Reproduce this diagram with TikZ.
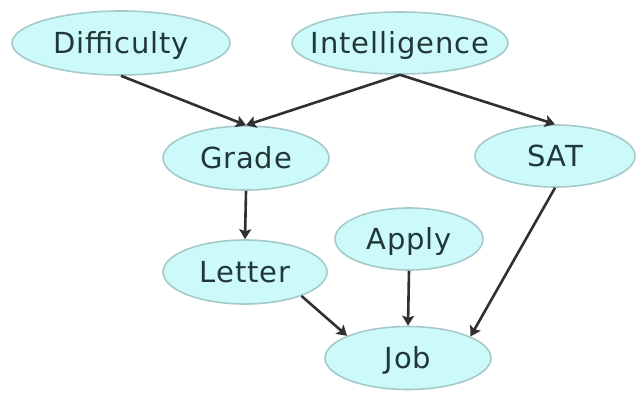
\documentclass[tikz,border=0pt]{standalone}
\usepackage{fontspec}
\usetikzlibrary{shapes.geometric,arrows.meta}
\newfontfamily\lblfont[LetterSpace=3]{DejaVu Sans}
\definecolor{nodefill}{HTML}{CCFAFA}
\definecolor{nodeline}{HTML}{A6CACA}
\definecolor{nodetext}{HTML}{223838}
\definecolor{edgecol}{HTML}{303030}
% zero-width label so the ellipse keeps its given size
\newcommand{\varname}[1]{\makebox[0pt]{#1}}
\tikzset{
  var/.style={ellipse, draw=nodeline, fill=nodefill, line width=1.6pt,
    inner sep=0pt, text height=21pt, text depth=0pt, text=nodetext,
    font=\lblfont\fontsize{29}{32}\selectfont},
  dep/.style={draw=edgecol, line width=2.6pt,
    -{Stealth[length=10pt,width=12pt,inset=2pt]}}
}
\begin{document}
\begin{tikzpicture}[x=1pt,y=-1pt]
  \useasboundingbox (0,0) rectangle (638,393);
  % variables of the network
  \node[var, minimum width=218pt, minimum height=64pt] (diff)  at (121,43)  {\varname{Difficulty}};
  \node[var, minimum width=216pt, minimum height=62pt] (intel) at (400,43)  {\varname{Intelligence}};
  \node[var, minimum width=166pt, minimum height=64pt] (grade) at (246,158) {\varname{Grade}};
  \node[var, minimum width=160pt, minimum height=62pt] (sat)   at (555,156) {\varname{SAT}};
  \node[var, minimum width=164pt, minimum height=64pt] (letter) at (245,272) {\varname{Letter}};
  \node[var, minimum width=148pt, minimum height=62pt] (apply) at (409,239) {\varname{Apply}};
  \node[var, minimum width=166pt, minimum height=63pt] (job)   at (408,358) {\varname{Job}};
  % dependencies
  \draw[dep] (diff.south)  -- (grade.north);
  \draw[dep] (intel.south) -- (grade.north);
  \draw[dep] (intel.south) -- (sat.north);
  \draw[dep] (grade.south) -- (letter.north);
  \draw[dep] (apply.south) -- (job.north);
  \draw[dep] (letter.-23)  -- (job.160);
  \draw[dep] (sat.south)   -- (job.19);
\end{tikzpicture}
\end{document}
